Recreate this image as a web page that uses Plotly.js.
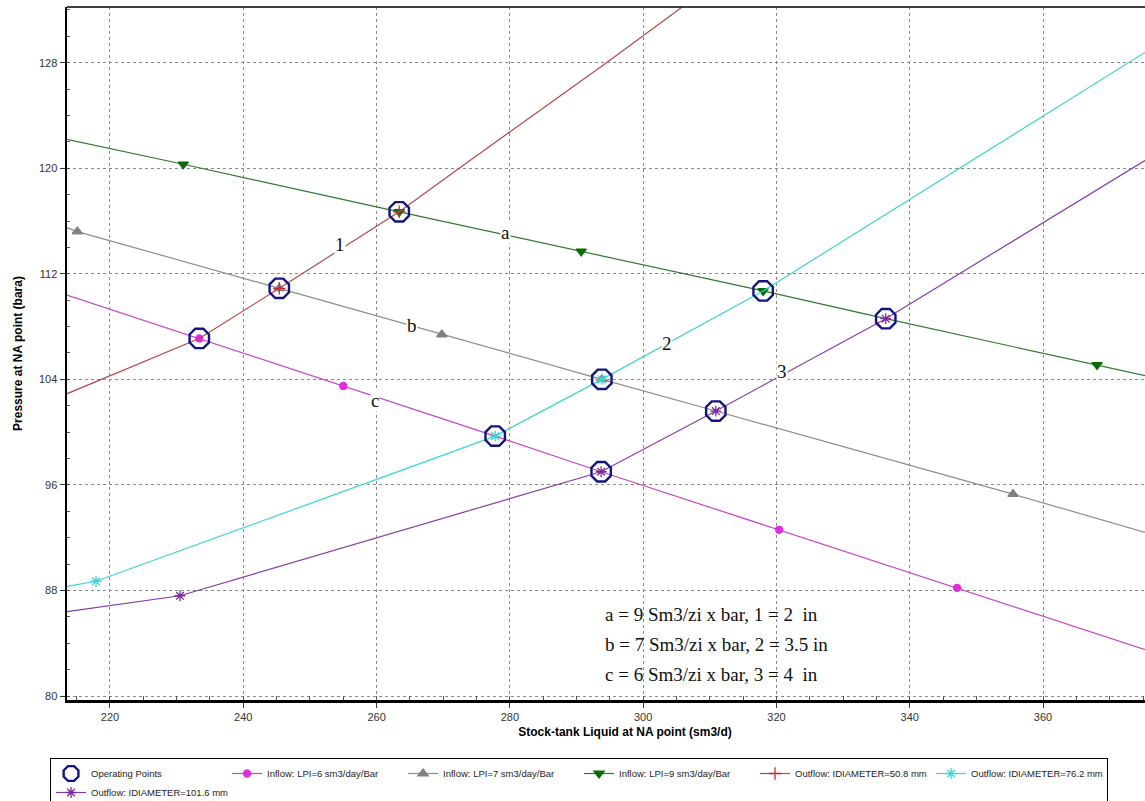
<!DOCTYPE html>
<html>
<head>
<meta charset="utf-8">
<script src="https://cdn.plot.ly/plotly-3.0.1.min.js"></script>
<style>
html,body{margin:0;padding:0;background:#fff;overflow:hidden;width:1145px;height:801px;}
#chart{width:1185px;height:801px;}
</style>
</head>
<body>
<div id="chart"></div>
<script>
// ---- Data ----
// Operating points (intersections)
const opQ = [233.4, 245.4, 263.4, 277.8, 293.8, 293.7, 310.9, 318.0, 336.4];
const opP = [107.1, 110.9, 116.7, 99.7, 104.0, 97.0, 101.6, 110.7, 108.6];

// Inflow LPI=6 (c)
const lpi6Q = [213.5, 233.4, 255.0, 277.8, 293.7, 320.4, 347.1, 376.0];
const lpi6P = [110.4, 107.1, 103.5, 99.7, 97.0, 92.6, 88.2, 83.4];
const lpi6MarkQ = [233.4, 255.0, 320.4, 347.1];
const lpi6MarkP = [107.1, 103.5, 92.6, 88.2];

// Inflow LPI=7 (b)
const lpi7Q = [213.5, 215.1, 245.4, 269.8, 293.8, 310.9, 355.5, 376.0];
const lpi7P = [115.5, 115.2, 110.9, 107.4, 104.0, 101.6, 95.3, 92.3];
const lpi7MarkQ = [215.1, 245.4, 269.8, 293.8, 355.5];
const lpi7MarkP = [115.2, 110.9, 107.4, 104.0, 95.3];

// Inflow LPI=9 (a)
const lpi9Q = [213.5, 231.0, 263.4, 290.7, 318.0, 336.4, 368.1, 376.0];
const lpi9P = [122.2, 120.3, 116.7, 113.7, 110.7, 108.6, 105.1, 104.2];
const lpi9MarkQ = [231.0, 263.4, 290.7, 318.0, 368.1];
const lpi9MarkP = [120.3, 116.7, 113.7, 110.7, 105.1];

// Outflow ID=50.8 mm (1)
const id508Q = [213.5, 233.4, 245.4, 263.4, 272.4, 294.5, 305.8];
const id508P = [102.9, 107.1, 110.9, 116.7, 120.0, 128.0, 132.2];
const id508MarkQ = [245.4, 263.4];
const id508MarkP = [110.9, 116.7];

// Outflow ID=76.2 mm (2)
const id762Q = [213.5, 217.9, 259.9, 277.8, 293.8, 318.0, 376.0];
const id762P = [88.3, 88.7, 96.4, 99.7, 104.0, 110.7, 129.0];
const id762MarkQ = [217.9, 277.8, 293.8];
const id762MarkP = [88.7, 99.7, 104.0];

// Outflow ID=101.6 mm (3)
const id1016Q = [213.5, 230.5, 293.7, 310.9, 336.4, 376.0];
const id1016P = [86.4, 87.6, 97.0, 101.6, 108.6, 120.8];
const id1016MarkQ = [230.5, 293.7, 310.9, 336.4];
const id1016MarkP = [87.6, 97.0, 101.6, 108.6];

// Curve labels
const curveLabels = ['a', 'b', 'c', '1', '2', '3'];
const curveLabelQ = [279.4, 265.3, 259.8, 254.5, 303.6, 320.8];
const curveLabelP = [115.15, 108.1, 102.4, 114.2, 106.7, 104.6];

// Note lines
const noteLines = ['a = 9 Sm3/zi x bar, 1 = 2  in', 'b = 7 Sm3/zi x bar, 2 = 3.5 in', 'c = 6 Sm3/zi x bar, 3 = 4  in'];
const noteQ = [294.0, 294.0, 294.0];
const noteP = [86.21, 83.94, 81.67];

const legendNames = {
  op: 'Operating Points',
  lpi6: 'Inflow: LPI=6 sm3/day/Bar',
  lpi7: 'Inflow: LPI=7 sm3/day/Bar',
  lpi9: 'Inflow: LPI=9 sm3/day/Bar',
  id508: 'Outflow: IDIAMETER=50.8 mm',
  id762: 'Outflow: IDIAMETER=76.2 mm',
  id1016: 'Outflow: IDIAMETER=101.6 mm'
};

// ---- Build traces ----
const traces = [];
function series(name, q, p, mq, mp, lineColor, markColor, symbol, msize, rank) {
  traces.push({x: q, y: p, mode: 'lines', showlegend: false, hoverinfo: 'skip',
    line: {color: lineColor, width: 1.2}});
  traces.push({x: mq, y: mp, mode: 'markers', showlegend: false, hoverinfo: 'skip',
    marker: {symbol: symbol, size: msize, color: markColor, line: {color: markColor, width: 1.3}}});
  traces.push({x: [null], y: [null], mode: 'lines+markers', name: name, legendrank: rank,
    line: {color: lineColor, width: 1.2},
    marker: {symbol: symbol, size: msize, color: markColor, line: {color: markColor, width: 1.3}}});
}
series(legendNames.lpi6, lpi6Q, lpi6P, lpi6MarkQ, lpi6MarkP, '#c944c9', '#e02ce0', 'circle', 7, 2);
series(legendNames.lpi7, lpi7Q, lpi7P, lpi7MarkQ, lpi7MarkP, '#8c8c8c', '#808080', 'triangle-up', 9, 3);
series(legendNames.lpi9, lpi9Q, lpi9P, lpi9MarkQ, lpi9MarkP, '#2e7a2e', '#0a6a0a', 'triangle-down', 9, 4);
series(legendNames.id508, id508Q, id508P, id508MarkQ, id508MarkP, '#b24a4a', '#c03030', 'cross-thin-open', 9, 5);
series(legendNames.id762, id762Q, id762P, id762MarkQ, id762MarkP, '#3fd4d4', '#3fd4d4', 'asterisk-open', 9, 6);
series(legendNames.id1016, id1016Q, id1016P, id1016MarkQ, id1016MarkP, '#8a3aa6', '#7a2a9a', 'asterisk-open', 9, 7);

traces.push({x: opQ, y: opP, mode: 'markers', name: legendNames.op, legendrank: 1, hoverinfo: 'skip',
  marker: {symbol: 'octagon-open', size: 21, color: '#14147e', line: {color: '#14147e', width: 2.4}}});

const annotations = [];
curveLabels.forEach((t, i) => annotations.push({
  x: curveLabelQ[i], y: curveLabelP[i], xref: 'x', yref: 'y', text: t, showarrow: false,
  bgcolor: '#ffffff', borderpad: 0,
  font: {family: 'Liberation Serif, Times New Roman, serif', size: 19, color: '#111'}
}));
noteLines.forEach((t, i) => annotations.push({
  x: noteQ[i], y: noteP[i], xref: 'x', yref: 'y', text: t, showarrow: false,
  xanchor: 'left', yanchor: 'middle',
  font: {family: 'Liberation Serif, Times New Roman, serif', size: 19, color: '#111'}
}));

const gridStyle = {showgrid: true, gridcolor: '#8a8a8a', gridwidth: 1, griddash: '3px,3px', zeroline: false};

const layout = {
  width: 1185, height: 801,
  margin: {l: 67, r: 2, t: 7, b: 101, autoexpand: false},
  paper_bgcolor: '#ffffff', plot_bgcolor: '#ffffff',
  font: {family: 'Arial, Liberation Sans, sans-serif', size: 11, color: '#333'},
  xaxis: Object.assign({}, gridStyle, {
    range: [213.55, 381.0], tickmode: 'linear', tick0: 200, dtick: 20,
    ticks: 'outside', ticklen: 5, tickcolor: '#333', tickwidth: 1,
    minor: {dtick: 5, ticks: 'inside', ticklen: 4, tickcolor: '#555', showgrid: false},
    showline: true, linecolor: '#000', linewidth: 3,
    tickfont: {size: 11, color: '#333'},
    automargin: false,
    title: {text: '<b>Stock-tank Liquid at NA point (sm3/d)</b>', font: {size: 12, color: '#000'}, standoff: 6}
  }),
  yaxis: Object.assign({}, gridStyle, {
    range: [79.70, 132.22], tickmode: 'linear', tick0: 80, dtick: 8,
    ticks: 'outside', ticklen: 5, tickcolor: '#333', tickwidth: 1,
    minor: {dtick: 2, ticks: 'inside', ticklen: 3, tickcolor: '#555', showgrid: false},
    showline: true, linecolor: '#000', linewidth: 2.5,
    tickfont: {size: 11, color: '#333'},
    automargin: false,
    title: {text: '<b>Pressure at NA point (bara)</b>', font: {size: 12, color: '#000'}, standoff: 14}
  }),
  shapes: [
    {type: 'line', xref: 'paper', yref: 'paper', x0: 0, x1: 1, y0: 1, y1: 1, line: {color: '#000', width: 1.5}}
  ],
  showlegend: true,
  legend: {
    orientation: 'h', x: -0.0152, xanchor: 'left', y: -0.0837, yanchor: 'top',
    bgcolor: '#ffffff', bordercolor: '#000', borderwidth: 1,
    font: {family: 'Liberation Sans Narrow, Arial Narrow, Arial, sans-serif', size: 9.5, color: '#222'},
    entrywidth: 131, entrywidthmode: 'pixels', itemwidth: 30, tracegroupgap: 0,
    traceorder: 'normal'
  },
  annotations: annotations
};

Plotly.newPlot('chart', traces, layout, {displayModeBar: false, staticPlot: true});
</script>
</body>
</html>
